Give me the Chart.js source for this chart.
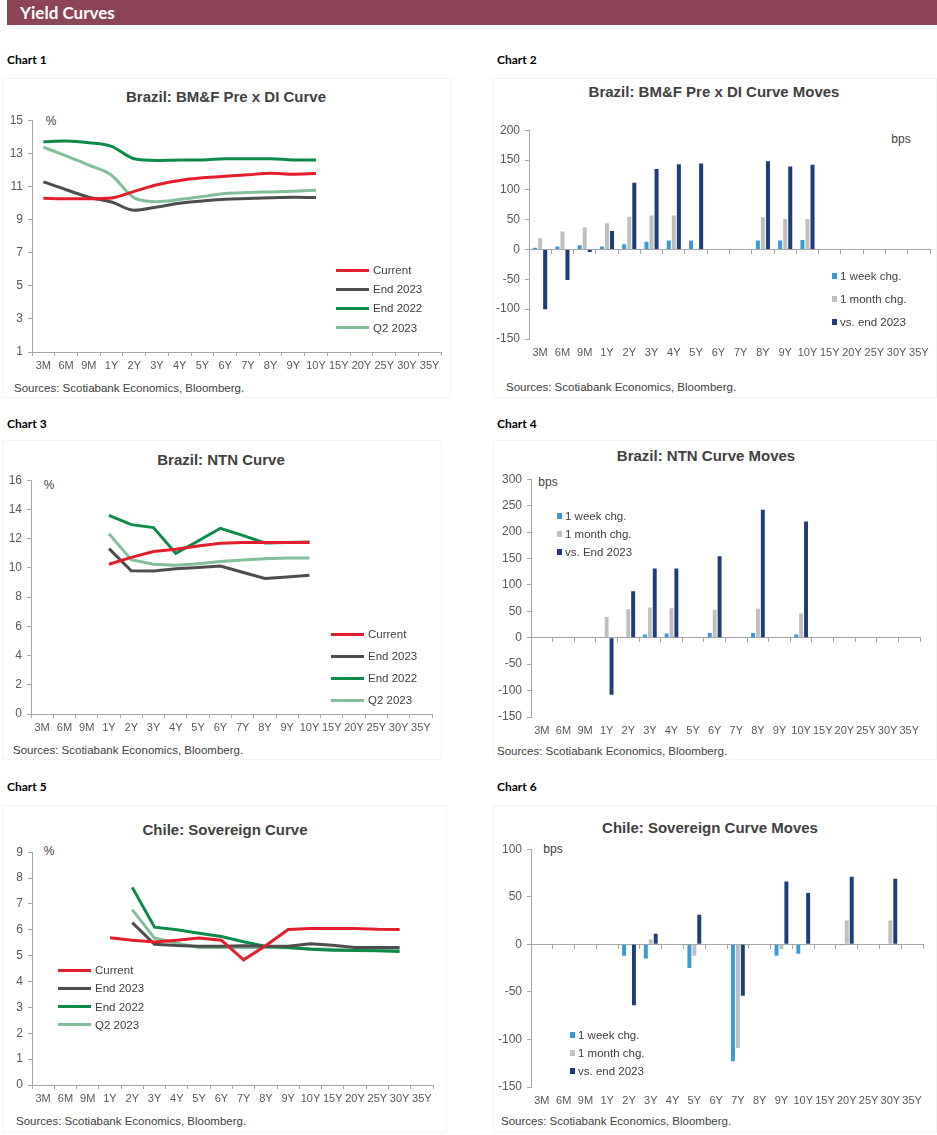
<!DOCTYPE html>
<html>
<head>
<meta charset="utf-8">
<script src="https://cdn.jsdelivr.net/npm/chart.js@4.4.0/dist/chart.umd.min.js"></script>
<style>
  body { margin:0; width:937px; height:1135px; background:#fff; position:relative; overflow:hidden; font-family:"Liberation Sans", Arial, sans-serif; }
  .banner { position:absolute; left:7px; top:0; width:930px; height:25px; background:#8C4457; }
  .banner span { position:absolute; left:13px; top:2px; color:#fff; font:bold 17px Lato, sans-serif; }
  .lbl { position:absolute; font:bold 12px Lato, sans-serif; color:#000; transform:translateY(-50%); }
  .box { position:absolute; border:1px solid #F4F4F4; box-sizing:border-box; }
  .ttl { position:absolute; font:bold 15px "Liberation Sans", Arial; color:#404040; transform:translate(-50%,-50%); white-space:nowrap; }
  .src { position:absolute; font:11.5px "Liberation Sans", Arial; color:#404040; transform:translateY(-50%); white-space:nowrap; }
  .unit { position:absolute; font:12px "Liberation Sans", Arial; color:#404040; transform:translate(-50%,-50%); }
  .wrap { position:absolute; }
  .leg { position:absolute; font:11.5px "Liberation Sans", Arial; color:#404040; white-space:nowrap; transform:translateY(-50%); z-index:2; }
  .mk { position:absolute; z-index:2; }
</style>
</head>
<body>
<div class="banner"><span>Yield Curves</span></div>

<div class="box" style="left:2px;top:78px;width:449px;height:320px"></div>
<div class="box" style="left:493px;top:78px;width:444px;height:320px"></div>
<div class="box" style="left:2px;top:440px;width:440px;height:320px"></div>
<div class="box" style="left:493px;top:440px;width:444px;height:320px"></div>
<div class="box" style="left:2px;top:805px;width:445px;height:328px"></div>
<div class="box" style="left:493px;top:805px;width:444px;height:328px"></div>

<div class="lbl" style="left:7px;top:59px">Chart 1</div>
<div class="lbl" style="left:497px;top:59px">Chart 2</div>
<div class="lbl" style="left:7px;top:423px">Chart 3</div>
<div class="lbl" style="left:497px;top:423px">Chart 4</div>
<div class="lbl" style="left:7px;top:786px">Chart 5</div>
<div class="lbl" style="left:497px;top:786px">Chart 6</div>

<div class="ttl" style="left:226px;top:96px">Brazil: BM&amp;F Pre x DI Curve</div>
<div class="ttl" style="left:714px;top:91px">Brazil: BM&amp;F Pre x DI Curve Moves</div>
<div class="ttl" style="left:221px;top:459px">Brazil: NTN Curve</div>
<div class="ttl" style="left:706px;top:455px">Brazil: NTN Curve Moves</div>
<div class="ttl" style="left:225px;top:829px">Chile: Sovereign Curve</div>
<div class="ttl" style="left:710px;top:827px">Chile: Sovereign Curve Moves</div>

<div class="unit" style="left:51px;top:121px">%</div>
<div class="unit" style="left:901px;top:139px">bps</div>
<div class="unit" style="left:49px;top:485px">%</div>
<div class="unit" style="left:548px;top:482px">bps</div>
<div class="unit" style="left:49px;top:851px">%</div>
<div class="unit" style="left:553px;top:849px">bps</div>

<div class="src" style="left:14px;top:388px">Sources: Scotiabank Economics, Bloomberg.</div>
<div class="src" style="left:506px;top:387px">Sources: Scotiabank Economics, Bloomberg.</div>
<div class="src" style="left:13px;top:750px">Sources: Scotiabank Economics, Bloomberg.</div>
<div class="src" style="left:497px;top:751px">Sources: Scotiabank Economics, Bloomberg.</div>
<div class="src" style="left:16px;top:1121px">Sources: Scotiabank Economics, Bloomberg.</div>
<div class="src" style="left:501px;top:1121px">Sources: Scotiabank Economics, Bloomberg.</div>

<div class="wrap" id="w1"><canvas id="c1"></canvas></div>
<div class="wrap" id="w2"><canvas id="c2"></canvas></div>
<div class="wrap" id="w3"><canvas id="c3"></canvas></div>
<div class="wrap" id="w4"><canvas id="c4"></canvas></div>
<div class="wrap" id="w5"><canvas id="c5"></canvas></div>
<div class="wrap" id="w6"><canvas id="c6"></canvas></div>

<script>
// tenors on every x axis
const tenors = ['3M','6M','9M','1Y','2Y','3Y','4Y','5Y','6Y','7Y','8Y','9Y','10Y','15Y','20Y','25Y','30Y','35Y'];
const curveNames = ['Current', 'End 2023', 'End 2022', 'Q2 2023'];
const moveNames = ['1 week chg.', '1 month chg.', 'vs. end 2023'];
const moveNamesNtn = ['1 week chg.', '1 month chg.', 'vs. End 2023'];

// Chart 1 - BM&F Pre x DI curve (%)
const diCurrent = [10.29, 10.25, 10.25, 10.3, 10.7, 11.1, 11.36, 11.52, 11.62, 11.7, 11.8, 11.74, 11.78, null, null, null, null, null];
const diEnd2023 = [11.28, 10.8, 10.35, 10.06, 9.56, 9.76, 9.98, 10.12, 10.23, 10.27, 10.31, 10.35, 10.33, null, null, null, null, null];
const diEnd2022 = [13.7, 13.75, 13.64, 13.42, 12.67, 12.57, 12.6, 12.6, 12.67, 12.67, 12.67, 12.6, 12.6, null, null, null, null, null];
const diQ22023 = [13.38, 12.84, 12.29, 11.68, 10.31, 10.08, 10.21, 10.39, 10.57, 10.63, 10.67, 10.71, 10.77, null, null, null, null, null];

// Chart 2 - DI curve moves (bps)
const diWeek = [3, 5, 7, 5, 9, 13, 15, 15, null, null, 15, 15, 16, null, null, null, null, null];
const diMonth = [19, 30, 37, 44, 55, 57, 57, null, null, null, 54, 51, 51, null, null, null, null, null];
const diVsEnd = [-100, -51, -4, 31, 112, 135, 143, 144, null, null, 148, 139, 142, null, null, null, null, null];

// Chart 3 - NTN curve (%)
const ntnCurrent = [null, null, null, 10.25, 10.72, 11.12, 11.28, 11.5, 11.68, 11.73, 11.73, 11.73, 11.73, null, null, null, null, null];
const ntnEnd2023 = [null, null, null, 11.32, 9.8, 9.78, 9.94, 10.03, 10.12, 9.7, 9.27, 9.38, 9.49, null, null, null, null, null];
const ntnEnd2022 = [null, null, null, 13.6, 12.96, 12.76, 10.99, 11.84, 12.71, 12.22, 11.7, 11.73, 11.77, null, null, null, null, null];
const ntnQ22023 = [null, null, null, 12.33, 10.56, 10.25, 10.18, 10.29, 10.43, 10.54, 10.63, 10.67, 10.67, null, null, null, null, null];

// Chart 4 - NTN curve moves (bps)
const ntnWeek = [null, null, null, 1, 1, 6, 8, null, 9, null, 9, null, 6, null, null, null, null, null];
const ntnMonth = [null, null, null, 39, 54, 57, 56, null, 53, null, 55, null, 46, null, null, null, null, null];
const ntnVsEnd = [null, null, null, -108, 88, 131, 131, null, 154, null, 242, null, 220, null, null, null, null, null];

// Chart 5 - Chile sovereign curve (%)
const clCurrent = [null, null, null, 5.69, 5.6, 5.53, 5.6, 5.68, 5.6, 4.84, 5.39, 6.01, 6.05, 6.05, 6.05, 6.02, 6.01, null];
const clEnd2023 = [null, null, null, null, 6.28, 5.44, 5.39, 5.36, 5.36, 5.38, 5.36, 5.36, 5.46, 5.4, 5.32, 5.32, 5.32, null];
const clEnd2022 = [null, null, null, null, 7.64, 6.1, 6.0, 5.87, 5.74, 5.54, 5.36, 5.32, 5.25, 5.21, 5.2, 5.19, 5.16, null];
const clQ22023 = [null, null, null, null, 6.78, 5.68, 5.48, 5.32, 5.32, 5.32, 5.32, 5.31, 5.27, 5.25, 5.22, 5.23, 5.25, null];

// Chart 6 - Chile sovereign curve moves (bps)
const clWeek = [null, null, null, null, -12, -15, null, -25, null, -123, null, -12, -10, null, -1, null, null, null];
const clMonth = [null, null, null, null, -1, 5, null, -12, null, -109, null, -5, -1, null, 25, null, 25, null];
const clVsEnd = [null, null, null, null, -64, 11, null, 31, null, -54, null, 66, 54, null, 71, null, 69, null];

const lineColors = ['#E31E2B', '#4D4D4D', '#0B8A4A', '#80BF99'];
const barColors = ['#3A9AD6', '#BFBFBF', '#1F3D78'];
const axisColor = '#A6A6A6';
const tickColor = '#595959';
const xFont = { family: 'Liberation Sans', size: 11 };
const yFont = { family: 'Liberation Sans', size: 12 };

const YW = 36, PT = 8, PR = 8, XH = 24;

function place(id, l, t, r, b) {
  const w = document.getElementById(id);
  w.style.left = (l - YW) + 'px';
  w.style.top = (t - PT) + 'px';
  w.style.width = (r - l + YW + PR) + 'px';
  w.style.height = (b - t + PT + XH) + 'px';
}

function yAxis(min, max, step) {
  return {
    min: min, max: max,
    ticks: { stepSize: step, color: tickColor, font: yFont, padding: 5 },
    grid: { drawOnChartArea: false, tickLength: 4, color: axisColor },
    border: { color: axisColor },
    afterFit: s => { s.width = YW; }
  };
}

function lineChart(canvas, series, ymin, ymax, step, smooth) {
  new Chart(document.getElementById(canvas), {
    type: 'line',
    data: {
      labels: tenors,
      datasets: series.map((d, i) => ({
        label: curveNames[i], data: d, borderColor: lineColors[i], backgroundColor: lineColors[i],
        borderWidth: 3, pointRadius: 0, tension: smooth ? 0.3 : 0, cubicInterpolationMode: smooth ? 'monotone' : 'default'
      }))
    },
    options: {
      responsive: true, maintainAspectRatio: false, animation: false,
      layout: { padding: { top: PT, right: PR, left: 0, bottom: 0 } },
      plugins: { legend: { display: false }, tooltip: { enabled: false } },
      scales: {
        x: {
          offset: true,
          grid: { offset: true, drawOnChartArea: false, tickLength: 4, color: axisColor },
          border: { color: axisColor },
          ticks: { color: tickColor, font: xFont, padding: 3, autoSkip: false, maxRotation: 0 },
          afterFit: s => { s.height = XH; }
        },
        y: yAxis(ymin, ymax, step)
      }
    }
  });
}

function barChart(canvas, series, names, ymin, ymax) {
  new Chart(document.getElementById(canvas), {
    type: 'bar',
    data: {
      labels: tenors,
      datasets: series.map((d, i) => ({
        label: names[i], data: d, backgroundColor: barColors[i],
        categoryPercentage: 0.68, barPercentage: 0.8
      }))
    },
    options: {
      responsive: true, maintainAspectRatio: false, animation: false,
      layout: { padding: { top: PT, right: PR, left: 0, bottom: 0 } },
      plugins: { legend: { display: false }, tooltip: { enabled: false } },
      scales: {
        x: {
          offset: true,
          grid: { display: false, drawTicks: false },
          border: { display: false },
          ticks: { color: tickColor, font: xFont, padding: 7, autoSkip: false, maxRotation: 0 },
          afterFit: s => { s.height = XH; }
        },
        // zero line with tick marks
        x2: {
          axis: 'x', type: 'category', position: { y: 0 }, offset: true,
          grid: { offset: true, drawOnChartArea: false, tickLength: 4, color: axisColor },
          border: { color: axisColor },
          ticks: { display: false }
        },
        y: yAxis(ymin, ymax, 50)
      }
    }
  });
}

function lineLegend(x, y, dy, names) {
  names.forEach((n, i) => {
    const m = document.createElement('div');
    m.className = 'mk';
    m.style.cssText += `left:${x}px;top:${y + i * dy - 1.5}px;width:33px;height:3px;background:${lineColors[i]}`;
    document.body.appendChild(m);
    const t = document.createElement('div');
    t.className = 'leg';
    t.style.cssText += `left:${x + 37}px;top:${y + i * dy}px`;
    t.textContent = n;
    document.body.appendChild(t);
  });
}

function barLegend(x, y, dy, names) {
  names.forEach((n, i) => {
    const m = document.createElement('div');
    m.className = 'mk';
    m.style.cssText += `left:${x}px;top:${y + i * dy - 3}px;width:5px;height:6px;background:${barColors[i]}`;
    document.body.appendChild(m);
    const t = document.createElement('div');
    t.className = 'leg';
    t.style.cssText += `left:${x + 8}px;top:${y + i * dy}px`;
    t.textContent = n;
    document.body.appendChild(t);
  });
}

place('w1', 32, 116, 441, 352);
place('w2', 529, 126, 930, 339);
place('w3', 31, 476, 432, 714);
place('w4', 531, 475, 920, 717);
place('w5', 32, 848, 433, 1085);
place('w6', 531, 845, 923, 1087);

lineChart('c1', [diCurrent, diEnd2023, diEnd2022, diQ22023], 1, 15, 2, true);
barChart('c2', [diWeek, diMonth, diVsEnd], moveNames, -150, 200);
lineChart('c3', [ntnCurrent, ntnEnd2023, ntnEnd2022, ntnQ22023], 0, 16, 2, false);
barChart('c4', [ntnWeek, ntnMonth, ntnVsEnd], moveNamesNtn, -150, 300);
lineChart('c5', [clCurrent, clEnd2023, clEnd2022, clQ22023], 0, 9, 1, false);
barChart('c6', [clWeek, clMonth, clVsEnd], moveNames, -150, 100);

lineLegend(336, 270, 19.2, curveNames);
lineLegend(331, 634, 22.1, curveNames);
lineLegend(58, 970, 18.3, curveNames);
barLegend(832, 276, 23.2, moveNames);
barLegend(557, 516, 17.9, moveNamesNtn);
barLegend(570, 1035, 18, moveNames);
</script>
</body>
</html>
